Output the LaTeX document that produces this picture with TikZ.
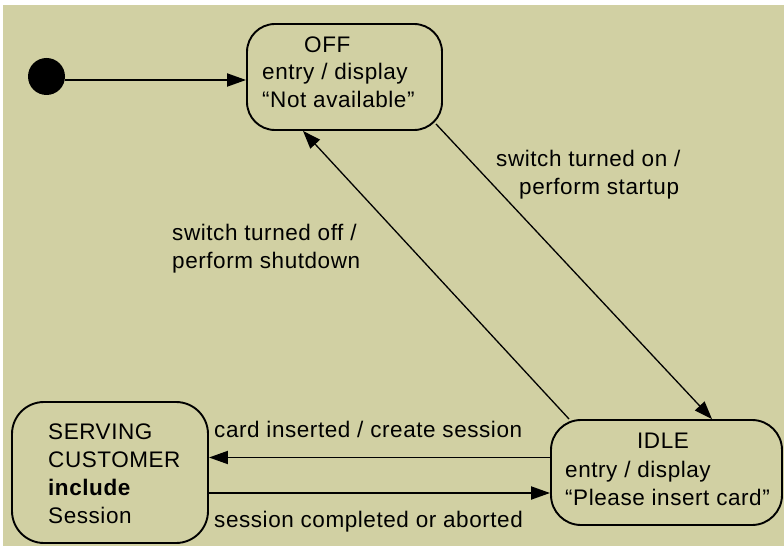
\documentclass[tikz,border=0pt]{standalone}
\usepackage{fontspec}
\setmainfont{Liberation Sans}[LetterSpace=2.5]
\usetikzlibrary{arrows.meta}
\definecolor{bgkhaki}{RGB}{209,208,163}
\tikzset{
  statebox/.style={draw=black, line width=1.9bp, rounded corners=28bp, inner sep=0pt},
  txt/.style={anchor=base west, inner sep=0pt, font=\fontsize{22.5bp}{28bp}\selectfont},
  trans/.style={draw=black, line width=1.9bp, -{Triangle[length=19bp,width=13bp]}},
  diag/.style={draw=black, line width=1.3bp, -{Triangle[length=18bp,width=13bp]}}
}
\begin{document}
\begin{tikzpicture}[x=1bp,y=-1bp]
  % page and backdrop
  \fill[white] (0,0) rectangle (784,546);
  \fill[bgkhaki] (3,5) rectangle (784,546);
  \useasboundingbox (0,0) rectangle (784,546);

  % initial pseudo-state
  \node[circle, fill=black, minimum size=37bp, inner sep=0pt] (init) at (46.5,76.5) {};

  % states
  \node[statebox, minimum width=195bp, minimum height=106bp] (off) at (344.5,77) {};
  \node[statebox, minimum width=231bp, minimum height=105bp, rounded corners=30bp] (idle) at (666.5,472.5) {};
  \node[statebox, minimum width=196bp, minimum height=141bp, rounded corners=32bp] (serving) at (110,472.5) {};

  % state texts
  \node[txt] (offname) at (304,53) {OFF};
  \node[txt] (offentry) at (262,80) {entry / display};
  \node[txt] (offmsg) at (262,108) {“Not available”};

  \node[txt, anchor=base] (idlename) at (663,448) {IDLE};
  \node[txt] (idleentry) at (565,477) {entry / display};
  \node[txt] (idlemsg) at (565,505) {“Please insert card”};

  \node[txt] (serv1) at (48,439) {SERVING};
  \node[txt] (serv2) at (48,467) {CUSTOMER};
  \node[txt] (serv3) at (48,495) {\bfseries include};
  \node[txt] (serv4) at (48,523) {Session};

  % transitions
  \draw[trans] ([yshift=-3.5bp]init.east) -- ([yshift=-3.5bp]init.east -| off.west);
  \draw[diag] ([xshift=-7bp,yshift=7bp]off.south east) -- ([xshift=45.5bp]idle.north);
  \draw[diag] ([xshift=19bp]idle.north west) -- ([xshift=-41.5bp]off.south);
  \draw[trans] ([yshift=15bp]idle.west) -- ([yshift=15bp]serving.east);
  \draw[trans] ([yshift=-20.5bp]serving.east) -- ([yshift=-20.5bp]idle.west);

  % transition labels
  \node[txt] (onlbl1) at (496,167) {switch turned on /};
  \node[txt] (onlbl2) at (519,195) {perform startup};
  \node[txt] (offlbl1) at (172,241) {switch turned off /};
  \node[txt] (offlbl2) at (172,269) {perform shutdown};
  \node[txt] (cardlbl) at (214,437) {card inserted / create session};
  \node[txt] (donelbl) at (214,527) {session completed or aborted};
\end{tikzpicture}
\end{document}
